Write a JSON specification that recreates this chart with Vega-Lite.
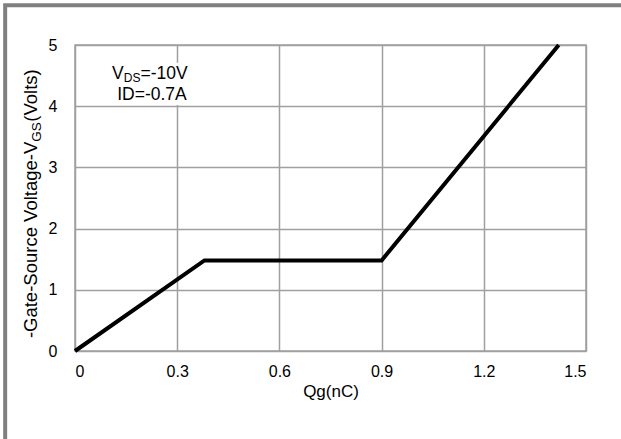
{
  "$schema": "https://vega.github.io/schema/vega-lite/v6.json",
  "width": 511,
  "height": 306,
  "autosize": {"type": "none"},
  "padding": {"left": 75, "top": 45, "right": 35, "bottom": 88},
  "background": "white",
  "data": {"values": [{}]},
  "config": {
    "font": "Liberation Sans",
    "view": {"stroke": "#a0a0a0", "strokeWidth": 1.5},
    "text": {"font": "Liberation Sans", "color": "#000"},
    "axis": {"labelFont": "Liberation Sans", "titleFont": "Liberation Sans", "labelColor": "#000", "titleColor": "#000", "labelFontSize": 16, "titleFontSize": 17, "titleFontWeight": "normal", "grid": true, "gridColor": "#a0a0a0", "gridWidth": 1.5, "gridOpacity": 1, "domain": false, "ticks": false}
  },
  "datasets": {
    "curve": [
      {"qg": 0, "vgs": 0},
      {"qg": 0.38, "vgs": 1.48},
      {"qg": 0.9, "vgs": 1.48},
      {"qg": 1.42, "vgs": 5}
    ]
  },
  "layer": [
    {
      "mark": {"type": "rect", "fill": "white", "clip": false},
      "encoding": {
        "x": {"datum": 0.04, "type": "quantitative", "scale": {"domain": [0, 1.5], "nice": false, "zero": false}, "axis": {"grid": true, "values": [0, 0.3, 0.6, 0.9, 1.2, 1.5], "labelPadding": 12, "title": "Qg(nC)", "titlePadding": 4, "labelExpr": "datum.value == 0 ? '0' : format(datum.value, '.1f')"}},
        "x2": {"datum": 0.405},
        "y": {"datum": 4.02, "type": "quantitative", "scale": {"domain": [0, 5], "nice": false, "zero": false}, "axis": {"grid": true, "values": [0, 1, 2, 3, 4, 5], "format": "d", "labelPadding": 18, "title": null}},
        "y2": {"datum": 4.71}
      }
    },
    {
      "data": {"name": "curve"},
      "mark": {"type": "line", "color": "black", "strokeWidth": 4, "strokeCap": "butt", "strokeJoin": "miter"},
      "encoding": {
        "x": {"field": "qg", "type": "quantitative"},
        "y": {"field": "vgs", "type": "quantitative"}
      }
    },
    {
      "mark": {"type": "text", "text": "V", "align": "left", "baseline": "alphabetic", "fontSize": 17.5},
      "encoding": {"x": {"datum": 0.1086, "type": "quantitative"}, "y": {"datum": 4.44, "type": "quantitative"}}
    },
    {
      "mark": {"type": "text", "text": "DS", "align": "left", "baseline": "alphabetic", "fontSize": 12, "dy": 3},
      "encoding": {"x": {"datum": 0.143, "type": "quantitative"}, "y": {"datum": 4.44, "type": "quantitative"}}
    },
    {
      "mark": {"type": "text", "text": "=-10V", "align": "left", "baseline": "alphabetic", "fontSize": 17.5},
      "encoding": {"x": {"datum": 0.192, "type": "quantitative"}, "y": {"datum": 4.44, "type": "quantitative"}}
    },
    {
      "mark": {"type": "text", "text": "ID=-0.7A", "align": "center", "baseline": "alphabetic", "fontSize": 17.5},
      "encoding": {"x": {"datum": 0.226, "type": "quantitative"}, "y": {"datum": 4.1, "type": "quantitative"}}
    },
    {
      "mark": {"type": "text", "text": "-Gate-Source Voltage-V", "align": "right", "baseline": "alphabetic", "angle": 270, "fontSize": 18.5, "clip": false},
      "encoding": {"x": {"datum": -0.113, "type": "quantitative"}, "y": {"datum": 3.42, "type": "quantitative"}}
    },
    {
      "mark": {"type": "text", "text": "GS", "align": "left", "baseline": "alphabetic", "angle": 270, "fontSize": 13.5, "dy": 4, "clip": false},
      "encoding": {"x": {"datum": -0.113, "type": "quantitative"}, "y": {"datum": 3.42, "type": "quantitative"}}
    },
    {
      "mark": {"type": "text", "text": "(Volts)", "align": "left", "baseline": "alphabetic", "angle": 270, "fontSize": 18.5, "dx": 20, "clip": false},
      "encoding": {"x": {"datum": -0.113, "type": "quantitative"}, "y": {"datum": 3.42, "type": "quantitative"}}
    },
    {
      "mark": {"type": "rect", "filled": false, "stroke": "#808080", "strokeWidth": 4, "clip": false},
      "encoding": {
        "x": {"datum": -0.205, "type": "quantitative"},
        "x2": {"datum": 3},
        "y": {"datum": 5.65, "type": "quantitative"},
        "y2": {"datum": -3}
      }
    }
  ]
}
